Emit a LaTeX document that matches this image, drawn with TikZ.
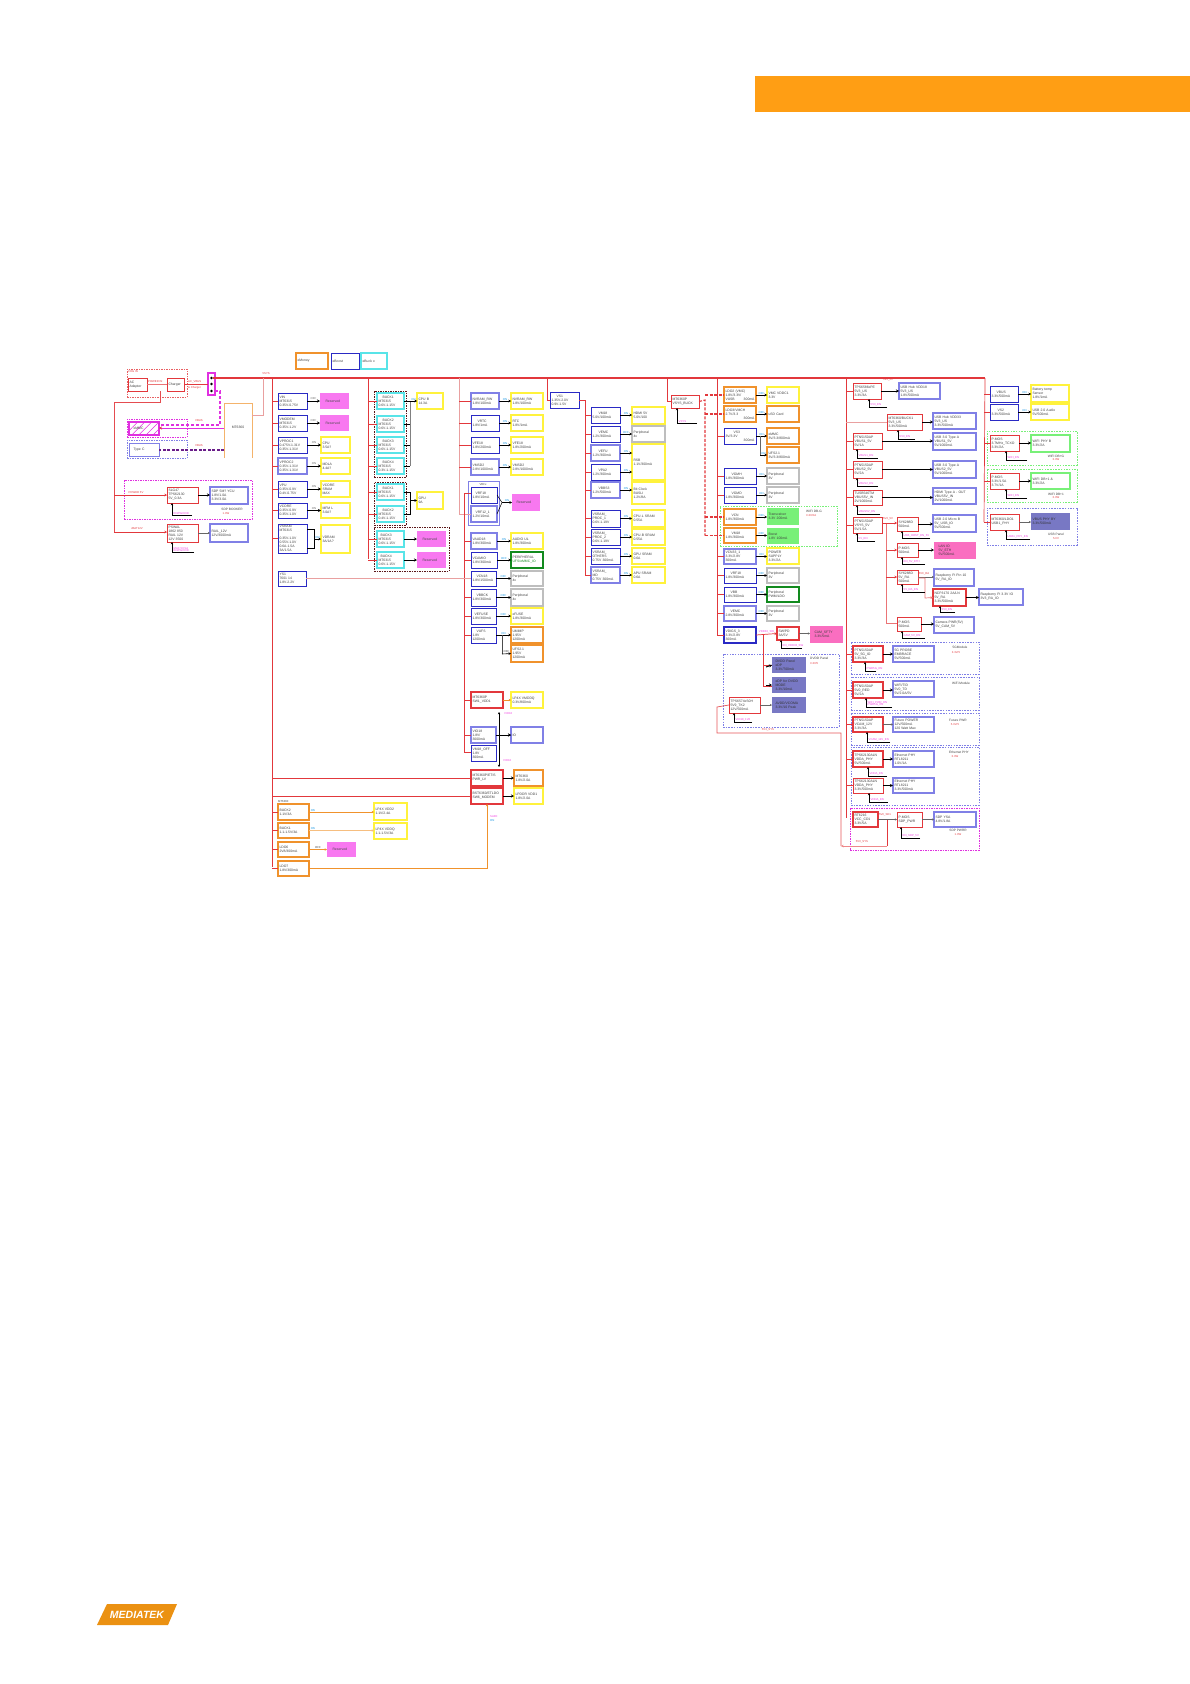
\documentclass[tikz,border=0pt]{standalone}
\usepackage{fontspec}
\setmainfont{Liberation Sans}
\usetikzlibrary{arrows.meta,patterns.meta}
\definecolor{cred}{HTML}{E2383C}
\definecolor{cblue}{HTML}{2A2AC4}
\definecolor{cpur}{HTML}{8080E6}
\definecolor{ccyan}{HTML}{58E4E8}
\definecolor{cyel}{HTML}{FFF23C}
\definecolor{cora}{HTML}{F0922C}
\definecolor{cgry}{HTML}{BEBEBE}
\definecolor{cgrn}{HTML}{78F078}
\definecolor{cdgrn}{HTML}{128A1E}
\definecolor{cpnk}{HTML}{F878F0}
\definecolor{crose}{HTML}{FA6EC0}
\definecolor{cnavy}{HTML}{7878C4}
\definecolor{cmag}{HTML}{E030E0}
\definecolor{clab}{HTML}{F040E0}
\definecolor{crail}{HTML}{E9A0A0}
\definecolor{chead}{HTML}{FF9E14}
\tikzset{
 boxx/.style={inner xsep=1.5pt,inner ysep=0pt,outer sep=0pt,align=left,text=black!75,font=\fontsize{3.4}{4}\selectfont},
 bb/.style={draw=cblue,line width=1pt},
 pb/.style={draw=cpur,line width=1.1pt},
 cb/.style={draw=ccyan,line width=1.1pt},
 yb/.style={draw=cyel,line width=1.6pt},
 ob/.style={draw=cora,line width=1.1pt},
 oob/.style={draw=cora,line width=1.5pt},
 gb/.style={draw=cgry,line width=1.1pt},
 rb/.style={draw=cred,line width=1pt},
 rrb/.style={draw=cred,line width=1.6pt},
 grb/.style={draw=cgrn,line width=1.5pt},
 dgb/.style={draw=cdgrn,line width=1.5pt},
 pf/.style={fill=cpnk,text=black!70},
 rosef/.style={fill=crose,text=black!75},
 gf/.style={fill=cgrn},
 nf/.style={fill=cnavy,text=black!80},
 gpdark/.style={draw=black!60!cred,dash pattern=on 1.5pt off 1pt,line width=0.7pt},
 gpmag/.style={draw=cmag,dash pattern=on 1.5pt off 1pt,line width=0.8pt},
 gpblue/.style={draw=cpur,dash pattern=on 1.5pt off 1.2pt,line width=0.5pt},
 gpgrn/.style={draw=cgrn,dash pattern=on 1.5pt off 1.2pt,line width=0.5pt},
 gpred/.style={draw=cred!80,dash pattern=on 1.5pt off 1pt,line width=0.7pt},
 rl/.style={draw=cred,line width=0.7pt},
 rlb/.style={draw=cred,line width=0.85pt},
 rlp/.style={draw=crail,line width=0.7pt},
 rail/.style={draw=cred,line width=1.4pt},
 ar/.style={draw=black,line width=0.6pt,-{Stealth[length=2.6pt,width=2.6pt]}},
 arb/.style={draw=black,line width=1pt,-{Stealth[length=3pt,width=3pt]}},
 arg/.style={draw=black!60,line width=0.5pt,-{Stealth[length=2.2pt,width=2.2pt]}},
 aro/.style={draw=cora,line width=0.7pt,-{Stealth[length=2.4pt,width=2.4pt]}},
 arr/.style={draw=cred,line width=0.7pt,-{Stealth[length=2.6pt,width=2.6pt]}},
 en/.style={draw=black,line width=0.7pt,-{Stealth[length=2.4pt,width=2.4pt]}},
 lb/.style={inner sep=0pt,font=\fontsize{2.8}{3.2}\selectfont,align=left},
 lon/.style={lb,text=cblue!50!cyan},
 loff/.style={lb,text=black!75},
 lpk/.style={lb,text=clab},
 lrd/.style={lb,text=cred},
 ltt/.style={lb,text=black!75,font=\fontsize{3.2}{3.8}\selectfont},
}
\newcommand{\bx}[7]{%
 \pgfmathsetmacro\bwx{#5-#3-3}\pgfmathsetmacro\bhx{#6-#4}%
 \node[boxx,#2,text width=\bwx pt,minimum height=\bhx pt,anchor=north west] (#1) at (#3,#4) {#7};}
\newcommand{\gp}[6]{%
 \pgfmathsetmacro\bwx{#5-#3}\pgfmathsetmacro\bhx{#6-#4}%
 \node[inner sep=0pt,outer sep=0pt,#2,minimum width=\bwx pt,minimum height=\bhx pt,anchor=north west] (#1) at (#3,#4) {};}
\newcommand{\enb}[5]{%
 \coordinate (#1-e) at (#4,#3);\coordinate (#1-f) at (#2,#3);
 \draw[en] (#1-e) -- (#1-f) -- (#1.south -| #1-f);
 \node[lpk,anchor=south west] (#1-l) at (#2+1.5,#3-0.3) {#5};}
\newcommand{\lab}[5]{\node[#2,anchor=#3] (#1) at (#4) {#5};}
\begin{document}
\begin{tikzpicture}[x=1pt,y=-1pt]
\useasboundingbox (0,0) rectangle (1190,1684);
\node[fill=chead,inner sep=0pt,minimum width=435pt,minimum height=36pt,anchor=north west] (hdr) at (755,76) {};
\path[fill=chead!92!black] (97,1625) -- (107,1604) -- (177,1604) -- (168,1625) -- cycle;
\node[text=white,font=\bfseries\itshape\fontsize{10.5}{10.5}\selectfont,inner sep=0pt] (logo) at (137,1614.5) {MEDIATEK};
\bx{lg1}{ob}{296}{353}{328}{369}{eMoney}
\bx{lg2}{bb}{331}{353}{359}{369}{eBoost}
\bx{lg3}{cb}{361}{353}{387}{369}{eBuck x}
\gp{gchg}{gpred}{127}{369}{187}{397}
\gp{gusb}{gpmag}{127}{419}{187}{437}
\gp{gtc}{draw=cpur,dash pattern=on 1.5pt off 1pt,line width=0.7pt}{127}{440}{187}{458}
\gp{gsdp}{gpmag}{124}{480}{252}{519}
\gp{gb1}{gpdark}{374}{391}{406}{477}
\gp{gb2}{gpdark}{374}{482}{406}{525}
\gp{gb3}{gpdark}{374}{527}{449}{571}
\gp{gvrf}{draw=cpur,line width=1pt}{468}{481}{499}{525}
\gp{gwifi}{gpgrn}{720}{506}{837}{546}
\gp{gedp}{gpblue}{723}{654}{839}{727}
\gp{gwf1}{gpgrn}{987}{431}{1077}{465}
\gp{gwf2}{gpgrn}{987}{469}{1077}{502}
\gp{gwf3}{gpblue}{987}{508}{1077}{545}
\gp{gm1}{gpblue}{851}{642}{979}{674}
\gp{gm2}{gpblue}{851}{677}{979}{710}
\gp{gm3}{gpblue}{851}{713}{979}{745}
\gp{gm4}{gpblue}{851}{747}{979}{805}
\gp{gm5}{gpmag}{850}{808}{979}{850}
\bx{ac}{rb}{128}{378}{147}{391}{AC\\Adapter}
\bx{chg}{rb}{167}{378}{184}{391}{Charger}
\gp{hub}{draw=cmag,line width=1.6pt}{208}{373}{215}{395}
\node[fill=black,circle,inner sep=0pt,minimum size=2.6pt] (d1) at (211.5,378) {};
\node[fill=black,circle,inner sep=0pt,minimum size=2.6pt] (d2) at (211.5,384) {};
\node[fill=black,circle,inner sep=0pt,minimum size=2.6pt] (d3) at (211.5,391) {};
\gp{mt}{}{224}{403}{252}{458}
\node[font=\fontsize{3.4}{4}\selectfont,text=black!75] (mtl) at (238,427) {MT6360};
\draw[draw=cora!70,line width=0.8pt] (mt.south west) -- (mt.north west) -- (mt.north east) -- (mt.south east);
\bx{hat}{draw=cmag,line width=1.1pt,pattern={Lines[angle=45,distance=5pt,line width=0.5pt]},pattern color=cmag}{129}{422}{159}{435}{\hspace{3pt}eMMC}
\bx{tc}{draw=cpur,line width=1pt}{129}{443}{159}{456}{\hspace{3pt}Type C}
\bx{sr}{rb}{167}{487}{198}{503}{SLG47\\TPS62130\\5V\_0.3A}
\bx{sd}{pb}{210}{487}{248}{504}{SDP 5M? YCU\\1.8V/1.0A\\3.3V/3.0A}
\bx{sr2}{rb}{167}{524}{198}{542}{PSWAL\\1862 850\\RAIL 12V\\12V 3500}
\bx{sd2}{pb}{210}{524}{248}{542}{RAIL\_12V\\12V/3000mA}
\bx{l1}{bb}{278}{393}{307}{409}{VIN\\MT6315\\0.35V-0.75V}
\bx{l2}{bb}{278}{415}{307}{431}{VMODEM\\MT6315\\0.35V-1.2V}
\bx{l3}{bb}{278}{437}{307}{453}{VPROC1\\0.475V-1.31V\\0.35V-1.31V}
\bx{l4}{pb}{278}{458}{307}{474}{VPROC2\\0.35V-1.31V\\0.35V-1.31V}
\bx{l5}{bb}{278}{481}{307}{497}{VPU\\0.35V-0.9V\\0.4V-0.75V}
\bx{l6}{bb}{278}{503}{307}{518}{VCORE\\0.35V-0.9V\\0.35V-1.0V}
\bx{l7}{bb}{278}{524}{307}{553}{VSRAM\\MT6315\\[4pt]0.35V-1.0V\\0.55V-1.0V\\0.6A-1.5A\\3A/1.5A}
\bx{ys}{bb}{278}{571}{306}{586}{YS1\\7601 14\\1.8V-2.2V}
\bx{t1}{pf}{320}{393}{349}{409}{\hspace{4pt}Reserved}
\bx{t2}{pf}{320}{415}{349}{431}{\hspace{4pt}Reserved}
\bx{t3}{yb}{321}{437}{350}{453}{CPU\\3.5A?}
\bx{t4}{yb}{321}{458}{350}{474}{MDLA\\4.4A?}
\bx{t5}{yb}{321}{481}{350}{497}{VCORE\\SRAM\\MAX}
\bx{t6}{yb}{321}{503}{350}{518}{MFM L\\3.0A?}
\bx{t7}{yb}{321}{525}{350}{553}{VDRAM\\3A/1A?}
\node[lb,text=black!75,anchor=west] (mt63) at (278,802) {MT6360};
\bx{b1}{ob}{278}{804}{309}{820}{BUCK2\\1.1V/3A}
\bx{b2}{ob}{278}{823}{309}{838}{BUCK1\\1.1-1.5V/3A}
\bx{b3}{ob}{278}{842}{309}{857}{LDO6\\2V8/300mA}
\bx{b4}{ob}{278}{861}{309}{876}{LDO7\\1.8V/300mA}
\bx{u1}{yb}{374}{803}{407}{820}{LP4X VDD2\\1.1V/2.4A}
\bx{u2}{yb}{374}{823}{407}{839}{LP4X VDDQ\\1.1-1.5V/3A}
\bx{u3}{pf}{327}{842}{356}{857}{\hspace{4pt}Reserved}
\bx{a1}{cb}{377}{393}{404}{409}{\hspace{4pt}BUCK1\\MT6315\\0.6V-1.15V}
\bx{a2}{cb}{377}{416}{404}{432}{\hspace{4pt}BUCK2\\MT6315\\0.6V-1.15V}
\bx{a3}{cb}{377}{437}{404}{453}{\hspace{4pt}BUCK3\\MT6315\\0.6V-1.15V}
\bx{a4}{cb}{377}{458}{404}{474}{\hspace{4pt}BUCK4\\MT6315\\0.3V-1.15V}
\bx{a5}{cb}{377}{484}{404}{500}{\hspace{4pt}BUCK1\\MT6315\\0.6V-1.15V}
\bx{a6}{cb}{377}{506}{404}{522}{\hspace{4pt}BUCK2\\MT6315\\0.4V-1.15V}
\bx{a7}{cb}{377}{531}{404}{547}{\hspace{2pt}BUCK3\\MT6315\\0.6V-1.15V}
\bx{a8}{cb}{377}{552}{404}{568}{\hspace{2pt}BUCK4\\MT6315\\0.6V-1.15V}
\bx{cpub}{yb}{417}{393}{443}{409}{CPU B\\14.3A}
\bx{gpu}{yb}{417}{492}{443}{509}{GPU\\9A}
\bx{rs1}{pf}{417}{531}{446}{547}{\hspace{4pt}Reserved}
\bx{rs2}{pf}{417}{552}{446}{568}{\hspace{4pt}Reserved}
\bx{c1}{pb}{471}{393}{499}{409}{NVRAM\_RW\\1.8V/100mA}
\bx{c2}{bb}{471}{415}{499}{431}{\hspace{5pt}VRTC\\1.8V/1mA}
\bx{c3}{bb}{471}{437}{499}{453}{VFE18\\1.8V/200mA}
\bx{c4}{pb}{471}{459}{499}{475}{VMSD2\\2.8V/1000mA}
\node[lb,text=black!75] (vrfl) at (483,484.5) {VRFx};
\bx{c5a}{bb}{471}{487}{497}{503}{\hspace{3pt}VRF18\\1.8V/10mA}
\bx{c5b}{pb}{471}{506}{497}{522}{\hspace{3pt}VRF12\_1\\1.2V/10mA}
\bx{c6}{pb}{471}{533}{497}{549}{VAUD18\\1.8V/300mA}
\bx{c7}{bb}{471}{552}{497}{568}{VCAMIO\\1.8V/300mA}
\bx{c8}{bb}{471}{571}{496}{586}{\hspace{4pt}VCN18\\1.8V/1500mA}
\bx{c9}{bb}{471}{589}{496}{606}{\hspace{4pt}VBBCK\\1.8V/300mA}
\bx{c10}{bb}{471}{608}{496}{624}{\hspace{2pt}VEFUSE\\1.8V/300mA}
\bx{c11}{bb}{471}{627}{496}{643}{\hspace{4pt}VUFS\\1.8V\\1200mA}
\bx{d1b}{yb}{511}{393}{543}{409}{NVRAM\_RW\\1.8V/100mA}
\bx{d2b}{yb}{511}{415}{543}{431}{RTC\\1.8V/1mA}
\bx{d3b}{yb}{511}{437}{543}{453}{VFE18\\1.8V/200mA}
\bx{d4b}{yb}{511}{459}{543}{475}{VMSD2\\2.8V/1000mA}
\bx{d5}{pf}{512}{494}{540}{511}{\hspace{3pt}Reserved}
\bx{d6}{yb}{511}{533}{543}{549}{AUDIO UL\\1.8V/300mA}
\bx{d7}{dgb}{511}{552}{543}{568}{PERIPHERAL\\{\color{cdgrn}UFS/eMMC\_IO}}
\bx{d8}{gb}{511}{571}{543}{586}{Peripheral\\4x}
\bx{d9}{gb}{511}{589}{543}{606}{Peripheral\\4x}
\bx{d10}{yb}{511}{608}{543}{624}{eFUSE\\1.8V/300mA}
\bx{d11}{oob}{511}{627}{543}{643}{UMIMP\\1.95V\\1200mA}
\bx{d12}{oob}{511}{645}{543}{662}{UFS2.1\\1.95V\\1200mA}
\bx{s1}{rrb}{471}{692}{503}{708}{MT6360P\\SW1\_VDD1}
\bx{s1t}{yb}{511}{692}{543}{708}{LP4X VMDDQ\\0.3V/800mA}
\bx{io1}{pb}{471}{727}{496}{743}{VIO18\\1.8V/\\3000mA}
\bx{io2}{bb}{471}{745}{496}{761}{VM18\_OFF\\1.8V\\300mA}
\bx{io}{pb}{511}{727}{543}{743}{IO}
\bx{s2}{rrb}{471}{770}{503}{786}{MT6360P/ETIS\\PWR\_LV}
\bx{s3}{rrb}{471}{788}{503}{804}{BST6360/ETLDO\\SW6\_MODEM}
\bx{s2t}{oob}{514}{770}{543}{786}{MT6360\\1.8V/2.0A}
\bx{s3t}{yb}{514}{788}{543}{804}{LPDDR VDD1\\1.8V/2.0A}
\bx{vs1}{bb}{550}{392}{579}{408}{\hspace{5pt}VS1\\1.35V-2.0V\\0.9V-1.5V}
\bx{e1}{bb}{591}{407}{620}{423}{\hspace{6pt}VM18\\5.0V/100mA}
\bx{e2}{bb}{591}{426}{620}{442}{\hspace{6pt}VEMC\\1.2V/300mA}
\bx{e3}{pb}{591}{445}{620}{461}{\hspace{6pt}VEFU\\1.2V/300mA}
\bx{e4}{bb}{591}{464}{620}{480}{\hspace{6pt}VPA2\\1.2V/300mA}
\bx{e5}{pb}{591}{482}{620}{498}{\hspace{6pt}VBBS3\\1.2V/500mA}
\bx{e6}{bb}{591}{510}{620}{527}{VSRAM\_\\PROC\_1\\0.6V-1.19V}
\bx{e7}{bb}{591}{529}{620}{545}{VSRAM\_\\PROC\_2\\0.6V-1.19V}
\bx{e8}{bb}{591}{548}{620}{564}{VSRAM\_\\OTHERS\\0.75V\ 300mA}
\bx{e9}{pb}{591}{567}{620}{583}{VSRAM\_\\MD\\0.75V\ 300mA}
\bx{f1}{yb}{632}{407}{665}{424}{HDMI 5V\\5.0V/100}
\bx{f2}{gb}{632}{426}{665}{442}{Peripheral\\4x}
\bx{f3}{yb}{632}{444}{665}{480}{RSB\\1.1V/300mA}
\bx{f5}{yb}{632}{482}{665}{504}{Bit Clock\\BUSLI\\1.2V/8A}
\bx{f6}{yb}{632}{510}{665}{527}{CPU-L SRAM\\0.55A}
\bx{f7}{yb}{632}{529}{665}{545}{CPU-B SRAM\\0.55A}
\bx{f8}{yb}{632}{548}{665}{564}{GPU SRAM\\0.6A}
\bx{f9}{yb}{632}{567}{665}{583}{APU SRAM\\0.6A}
\bx{bk}{rb}{671}{395}{699}{408}{MT6360P\\VSYS\_BUCK}
\bx{h1}{ob}{724}{387}{756}{403}{LDO2 (VMC)\\1.8V/3.3V/\\VUSB\hfill 300mA}
\bx{h2}{ob}{724}{406}{756}{422}{LDO3/VMCH\\2.7V/3.3\\\hfill 300mA}
\bx{h3}{bb}{724}{428}{756}{444}{\hspace{8pt}VS3\\3V/3.3V\\\hfill 300mA}
\bx{h4}{bb}{724}{468}{756}{484}{\hspace{6pt}VGMH\\1.8V/300mA}
\bx{h5}{bb}{724}{487}{756}{503}{\hspace{6pt}VGMD\\1.8V/300mA}
\bx{h6}{ob}{724}{509}{756}{525}{\hspace{6pt}VCN\\1.8V/300mA}
\bx{h7}{ob}{724}{528}{756}{543}{\hspace{6pt}VM18\\1.8V/300mA}
\bx{h8}{pb}{724}{549}{756}{564}{VCN33\_1\\3.3V/2.8V\\300mA}
\bx{h9}{bb}{724}{568}{756}{583}{\hspace{5pt}VRF18\\1.8V/300mA}
\bx{h10}{bb}{724}{587}{756}{602}{\hspace{5pt}VBB\\1.8V/300mA}
\bx{h11}{pb}{724}{606}{756}{621}{\hspace{5pt}VEMC\\2.8V/300mA}
\bx{vio3}{draw=cblue,line width=1.5pt}{724}{627}{756}{643}{VDIGS\_3\\3.3V/2.8V\\300mA}
\bx{j1}{yb}{767}{387}{799}{403}{VMC VDDC1\\3.3V}
\bx{j2}{oob}{767}{406}{799}{422}{uSD Card}
\bx{j3}{oob}{767}{428}{799}{444}{eMMC\\3V/3.3/800mA}
\bx{j3b}{oob}{767}{447}{799}{463}{UFS2.1\\3V/3.3/800mA}
\bx{j4}{gb}{767}{468}{799}{484}{Peripheral\\3V}
\bx{j5}{gb}{767}{487}{799}{503}{Peripheral\\3V}
\bx{j6}{gf}{767}{508}{799}{525}{Transceiver\\3.3V\ 200mA}
\bx{j7}{gf}{767}{528}{799}{544}{Boost\\1.8V\ 100mA}
\bx{j8}{yb}{767}{548}{799}{564}{POWER\\SUPPLY\\3.3V/2A}
\bx{j9}{gb}{767}{568}{799}{583}{Peripheral\\3V}
\bx{j10}{dgb}{767}{587}{799}{602}{Peripheral\\PWM/LDO}
\bx{j11}{gb}{767}{606}{799}{621}{Peripheral\\3V}
\bx{sw}{rrb}{777}{627}{799}{640}{SW/PD\\3A/5V}
\bx{cam}{rosef}{810}{626}{843}{643}{\hspace{3pt}CAM\_SFTY\\\hspace{3pt}3.3V/5mA}
\bx{n1}{nf}{772}{657}{806}{673}{\hspace{2pt}DVDD Panel\\\hspace{2pt}eDP\\\hspace{2pt}3.3V/700mA}
\bx{n2}{nf}{772}{677}{806}{693}{\hspace{2pt}eDP for DVDD\\\hspace{2pt}MODE\\\hspace{2pt}3.3V/10mA}
\bx{n3}{nf}{772}{697}{806}{713}{\hspace{2pt}AVDD/VCOMA\\\hspace{2pt}3.3V/10 Peak}
\bx{pv}{rb}{729}{697}{760}{713}{TPS6574xS0H\\5V9\_TK2\\12V/500mA}
\bx{k1}{rb}{853}{383}{881}{399}{TPS6586xPE\\5V3\_US\\3.3V/3A}
\bx{k2}{rb}{887}{414}{922}{430}{MT6360/BUCK1\\5V3\_US\\3.3V/500mA}
\bx{k3}{rb}{853}{433}{882}{449}{PTN5150AP\\VBUS1\_5V\\5V/1A}
\bx{k4}{rb}{853}{461}{882}{478}{PTN5150AP\\VBUS2\_5V\\5V/2A}
\bx{k5}{rb}{853}{490}{882}{505}{TUSB546TM\\VBUS5V\_IN\\2V/1000mA}
\bx{k6}{rb}{853}{517}{882}{533}{PTN5150AP\\VSYS\_5V\\5V/1.5A}
\bx{m1}{pb}{899}{383}{940}{399}{USB Hub VDD18\\5V3\_US\\1.8V/500mA}
\bx{m2}{pb}{933}{413}{976}{429}{USB Hub VDD33\\5V3\_US\\3.3V/500mA}
\bx{m3}{pb}{933}{433}{976}{450}{USB 3.0 Type A\\VBUS1\_5V\\5V/1000mA}
\bx{m4}{pb}{933}{461}{976}{478}{USB 3.0 Type A\\VBUS2\_5V\\5V/1000mA}
\bx{m5}{pb}{933}{488}{976}{504}{HDMI Type A - OUT\\VBUS5V\_IN\\2V/1000mA}
\bx{q1}{rb}{897}{517}{918}{531}{SY6288D\\500mA}
\bx{m6}{pb}{933}{515}{976}{532}{USB 2.0 Micro B\\5V\_USB\_IO\\5V/500mA}
\bx{q2}{rb}{897}{543}{918}{557}{P-MOS\\500mA}
\bx{m7}{rosef}{934}{542}{976}{559}{\hspace{3pt}LAN IO\\\hspace{3pt}5V\_ETH\\\hspace{3pt}5V/500mA}
\bx{q3}{rb}{897}{570}{918}{584}{SY6288D\\5V\_RA\\500mA}
\bx{m8}{pb}{934}{569}{974}{586}{Raspberry Pi Pin 10\\5V\_RA\_IO}
\bx{q4}{rrb}{933}{589}{966}{606}{NCP3170 2A/LN\\5V\_RA\\3.3V/500mA}
\bx{m9}{pb}{979}{589}{1023}{605}{Raspberry Pi 3.3V IO\\3V3\_RA\_IO}
\bx{q5}{rb}{897}{617}{921}{631}{P-MOS\\500mA}
\bx{m10}{pb}{934}{617}{974}{633}{Camera PWR(5V)\\5V\_CAM\_5V}
\bx{v1}{bb}{990}{386}{1018}{402}{\hspace{5pt}VBUS\\3.3V/500mA}
\bx{v2}{bb}{990}{404}{1018}{420}{\hspace{6pt}VS2\\3.3V/500mA}
\bx{w1}{yb}{1031}{385}{1069}{402}{Battery temp\\Sensor\\1.8V/1mA}
\bx{w2}{yb}{1031}{404}{1069}{420}{USB 2.0 Audio\\5V/500mA}
\bx{x1}{rb}{990}{435}{1019}{451}{P-MOS\\3.7MHz\_TCXO\\3.3V/2A}
\bx{y1}{grb}{1031}{435}{1070}{452}{WIFI PHY B\\3.3V/2A}
\bx{x2}{rb}{990}{473}{1019}{489}{P-MOS\\3.3V/1.5A\\3.7V/1A}
\bx{y2}{grb}{1031}{473}{1070}{489}{WIFI DB+1 \&\\3.3V/2A}
\bx{x3}{rb}{990}{514}{1019}{530}{MT6360/LDO1\\USB1\_PHY}
\bx{y3}{nf}{1031}{513}{1070}{530}{VBUS PHY BY\\3.3V/500mA}
\bx{z1}{rrb}{853}{646}{883}{662}{PTN5150AP\\5V\_5G\_IO\\3.3V/3A}
\bx{z1t}{pb}{893}{646}{934}{662}{5G PROBE\\EMBRACE\\5V/500mA}
\bx{z2}{rrb}{853}{682}{883}{698}{PTN5150AP\\5V0\_RED\\5V/2A}
\bx{z2t}{pb}{893}{681}{934}{697}{WIFI/TID\\5V0\_TD\\5V/2.0A/5V}
\bx{z3}{rrb}{853}{717}{883}{732}{PTN5150AP\\VCAM\_12V\\3.3V/3A}
\bx{z3t}{pb}{893}{717}{934}{732}{Future POWER\\12V/500mA\\120 Watt Max}
\bx{z4}{rrb}{853}{751}{883}{767}{TPS62130ALN\\VDDA\_PHY\\5V/500mA}
\bx{z4t}{pb}{893}{751}{934}{767}{Ethernet PHY\\RTL8211\\1.0V/1A}
\bx{z5}{rb}{853}{778}{883}{793}{TPS62130ALN\\VDDA\_PHY\\3.3V/500mA}
\bx{z5t}{pb}{893}{778}{934}{793}{Ethernet PHY\\RTL8211\\3.3V/500mA}
\bx{z6}{rrb}{853}{812}{878}{827}{RT6216\\VCC\_CD1\\3.3V/5A}
\bx{z7}{rb}{897}{812}{922}{827}{P-MOS\\SDP\_PWR}
\bx{z8}{pb}{934}{812}{976}{827}{SDP YSA\\4.8V/1.8A}
\coordinate (ra) at (272,378);
\coordinate (rb1) at (368,378);
\coordinate (rc) at (459,378);
\coordinate (rc2) at (464,493);
\coordinate (rd) at (547,378);
\coordinate (re) at (667,378);
\coordinate (rf) at (717,378);
\coordinate (rg) at (846,378);
\coordinate (rh) at (984,378);
\coordinate (rm) at (985,378);
\coordinate (rfa) at (717,635);
\coordinate (rga) at (846,818);
\coordinate (rhb) at (984,522);
\coordinate (rab) at (272,867);
\coordinate (rbb) at (368,559);
\coordinate (rce) at (459,514);
\coordinate (rc2b) at (464,752);
\coordinate (vsv) at (585,400);
\coordinate (vsb) at (585,575);
\draw[rail] (d1) -- (rm);
\draw[rl] (rm) -- (rhb);
\draw[rlb] (ra) -- (rab);
\draw[rlb] (rb1) -- (rbb);
\draw[rlp,line width=0.9pt] (rc) -- (rce) -- (rce -| c5b.west);
\draw[rl] (rc2) -- (rc2b) -- (rc2b -| io2.west);
\draw[rl] (rc2) -- (rc2 -| c5a.west);
\draw[rlb] (rf) -- (rfa) -- (rfa -| vio3.west);
\draw[rlb] (rg) -- (rga);
\draw[rl] (rd) -- (rd |- vs1.west) -- (vs1.west);
\draw[rl] (re) -- (re |- bk.west) -- (bk.west);
\foreach \b in {l1,l2,l3,l4,l5,l6,l7,b1,b2,b3,b4} \draw[rl] (ra |- \b.west) -- (\b.west);
\foreach \b in {s2,s3} \draw[rl] (ra |- \b.west) -- (\b.west);
\draw[rlp] (ys.east) -- (ys.east -| c8.west);
\foreach \b in {a1,a2,a3,a4,a5,a6,a7,a8} \draw[rl] (rb1 |- \b.west) -- (\b.west);
\foreach \b in {c1,c2,c3,c4} \draw[rl] (rc |- \b.west) -- (\b.west);
\foreach \b in {c6,c7,c9,c10,c11,s1,io1} \draw[rl] (rc2 |- \b.west) -- (\b.west);
\foreach \b in {e1,e2,e3,e4,e5,e6,e7,e8,e9} \draw[rl] (vsv |- \b.west) -- (\b.west);
\draw[rl] (vs1.east) -- (vsv) -- (vsb) -- (vsb -| e9.west);
\foreach \b in {h3,h4,h5,h8,h9,h10,h11} \draw[rl] (rf |- \b.west) -- (\b.west);
\foreach \b in {k1,k3,k4,k5,k6,z1,z2,z3,z4,z5} \draw[rl] (rg |- \b.west) -- (\b.west);
\draw[rlp] (rg |- k2.west) -- (k2.west);
\foreach \b in {v1,v2,x1,x2,x3} \draw[rl] (rh |- \b.west) -- (\b.west);
\coordinate (dv1) at (705,400);\coordinate (dv2) at (705,535.5);
\draw[rl,dash pattern=on 3pt off 1.5pt,line width=1.1pt] (bk.east) -- (dv1) -- (dv2);
\foreach \b in {h1,h2,h6,h7} \draw[rl,dash pattern=on 3pt off 1.5pt,line width=1.1pt] (dv1 |- \b.west) -- (\b.west);
\foreach \a/\b/\t in {l1/t1/OFF,l2/t2/OFF,l3/t3/ON,l4/t4/ON,l5/t5/ON,l6/t6/ON}{
 \draw[arb] (\a.east) -- (\a.east -| \b.west) node[midway,above=0.6pt,lon,text=black!60]{\t};}
\foreach \a/\b/\t in {c1/d1b/ON,c2/d2b/ON,c3/d3b/ON,c4/d4b/ON,c6/d6/ON,c7/d7/OFF,c8/d8/OFF,c9/d9/OFF,c10/d10/OFF,c11/d11/ON,
 h1/j1/OFF,h2/j2/OFF,h3/j3/ON,h4/j4/ON,h5/j5/ON,h6/j6/OFF,h7/j7/OFF,h8/j8/ON,h9/j9/OFF,h10/j10/OFF,h11/j11/OFF,
 e1/f1/ON,e2/f2/OFF,e3/f3/ON,e4/f3/ON,e5/f5/ON,e6/f6/ON,e7/f7/ON,e8/f8/ON,e9/f9/ON,v1/w1/ON,v2/w2/ON}{
 \draw[ar] (\a.east) -- (\a.east -| \b.west) node[midway,above=0.6pt,lon]{\t};}
\foreach \a/\b in {a7/rs1,a8/rs2,sr/sd,k3/m3,k4/m4,k5/m5,q1/m6,q2/m7,q5/m10,z1/z1t,z2/z2t,z4/z4t,z5/z5t,x1/y1,x2/y2,s2/s2t,s3/s3t,q4/m9,io1/io,k2/m2,k1/m1}
 \draw[arb,line width=0.8pt] (\a.east) -- (\a.east -| \b.west);
\foreach \a/\b in {sr2/sd2,x3/y3,z3/z3t,z6/z7,z7/z8,pv/n3,sw/cam,q3/m8}
 \draw[arg] (\a.east) -- (\a.east -| \b.west);
\draw[aro] (s1.east) -- (s1t.west);
\draw[aro] (b1.east) -- (b1.east -| u1.west) node[pos=0.06,above=0.6pt,lon]{ON};
\draw[aro,draw=cora!60] (b2.east) -- (b2.east -| u2.west) node[pos=0.06,above=0.6pt,lon]{ON};
\draw[aro] (b3.east) -- (b3.east -| u3.west) node[midway,above=0.6pt,loff]{OFF};
\coordinate (lo7) at (487,867);
\draw[aro] (b4.east) -- (b4.east -| lo7) -- (s3.south -| lo7);
\coordinate (bk1) at (410,401);\coordinate (bk1b) at (410,466);
\draw[draw=black!50,line width=0.9pt] (a1.east -| bk1) -- (bk1b);
\foreach \b in {a1,a2,a3,a4} \draw[draw=black,line width=0.5pt] (\b.east) -- (\b.east -| bk1);
\draw[ar] (bk1) -- (cpub.west) node[midway,above=0.6pt,lon]{ON};
\coordinate (bk2) at (410,500.5);
\draw[draw=black,line width=0.5pt] (a5.east) -- (a5.east -| bk2) -- (a6.east -| bk2) -- (a6.east);
\draw[ar] (bk2) -- (gpu.west);
\coordinate (bk3) at (502,502.5);
\draw[draw=black,line width=0.5pt] (c5a.east) -- (bk3) -- (c5b.east);
\draw[ar] (bk3) -- (d5.west) node[midway,above=0.6pt,lon]{ON};
\coordinate (bk4) at (314,539);
\draw[draw=black,line width=0.8pt] (l7.east |- 0,529) -- (314,529) -- (314,548) -- (l7.east |- 0,548);
\draw[ar] (bk4) -- (bk4 -| t7.west) node[midway,above=0.6pt,lon]{ON};
\draw[ar] (io1.east) -- (io.west);
\coordinate (vt1) at (499,712);\coordinate (vt2) at (499,767);
\draw[draw=black,line width=0.8pt,{Stealth[length=2.4pt,width=2.4pt]}-{Stealth[length=2.4pt,width=2.4pt]}] (vt1) -- (vt2);
\coordinate (h3v) at (760,436);\coordinate (h3w) at (760,455);
\draw[draw=black!60,line width=0.7pt] (h3v) -- (h3w);
\draw[ar] (h3w) -- (j3b.west) node[midway,above=0.6pt,lon]{ON};
\coordinate (c11v) at (502,635);\coordinate (c11w) at (502,654);
\draw[draw=black!70,line width=0.6pt] (c11v) -- (c11w);
\draw[ar,line width=0.6pt] (c11w) -- (d12.west) node[midway,above=0.6pt,loff]{OFF};
\draw[arr] (vio3.east) -- (sw.west) node[midway,above=0.6pt,lpk]{VDD33\_SW};
\coordinate (ev) at (763,635);\coordinate (ev2) at (763,686);
\draw[rl] (ev) -- (ev2);
\draw[rl] (ev |- n1.west) -- (n1.west);
\draw[rl] (ev2) -- (ev2 -| n2.west);
\draw[arb] (766,667) -- (n1.west);
\draw[arb] (766,685) -- (n2.west |- 0,685);
\coordinate (rv) at (886,523);\coordinate (rv2) at (886,623);
\draw[rl,draw=cred!70] (rv) -- (rv2) -- (rv2 -| q5.west);
\draw[arr] (k6.east |- 0,523) -- (q1.west |- 0,523);
\draw[arr] (rv |- q2.west) -- (q2.west);
\draw[arr] (rv |- q3.west) -- (q3.west);
\draw[arr,draw=cred!70] (918,578) -- (925,578) -- (925,598) -- (q4.west);
\coordinate (acd) at (160,391);\coordinate (acv) at (114,402);\coordinate (acv2) at (114,532);
\draw[rlb,draw=cred!90] (acd) -- (160,402) -- (acv) -- (acv2);
\draw[arr] (acv2) -- (acv2 -| sr2.west);
\draw[arr,line width=1pt] (acv |- sr.west) -- (sr.west);
\draw[rl,draw=cred!70] (ac.east) -- (chg.west);
\draw[rl] (chg.east) -- (hub.west |- chg.east);
\draw[rlp] (mt.north east |- 0,415) -- (263,415) -- (263,378);
\draw[draw=cmag,dash pattern=on 3pt off 2pt,line width=1.2pt] (hub.east |- 0,391) -- (220,391) -- (220,425) -- (hat.east |- 0,425);
\draw[draw=cmag,line width=0.7pt,-{Stealth[length=3pt,width=3pt,color=cred]}] (mt.west |- 0,428) -- (hat.east |- 0,428);
\draw[draw=cblue!70!red,dash pattern=on 3pt off 1.5pt,line width=1.2pt] (mt.west |- 0,450) -- (tc.east |- 0,450);
\coordinate (pv1) at (717,707);\coordinate (pv2) at (717,733);\coordinate (pv3) at (841,733);\coordinate (pv4) at (841,846);\coordinate (pv5) at (887,846);\coordinate (pv6) at (887,820);
\draw[rl,draw=cred!85] (pv.west) -- (pv1) -- (pv2) -- (pv3) -- (pv4);
\draw[arr,draw=cred!60] (pv5) -- (pv4);
\draw[rl] (pv5) -- (pv6);
\enb{sr}{172}{515}{192}{EN/PGOOD}
\enb{sr2}{172}{552}{194}{MAX 5V/1A\\[-1pt]EN/PGOOD}
\enb{bk}{677}{423}{697}{VSYS}
\enb{sw}{781}{648}{802}{EN\_VDD33\_SW}
\enb{pv}{734}{722}{752}{VIO18\_1V8}
\enb{k1}{869}{407}{887}{5V3\_EN}
\enb{k2}{898}{439}{915}{5V3\_EN}
\enb{k3}{857}{458}{878}{VBUS1\_EN}
\enb{k4}{857}{486}{878}{VBUS2\_EN}
\enb{k5}{857}{514}{880}{VBUS5V\_EN}
\enb{k6}{857}{541}{875}{5V\_EN}
\enb{q1}{902}{538}{930}{USB\_HOST\_EN\_5V}
\enb{q2}{902}{564}{925}{EN\_5V\_ETH}
\enb{q3}{902}{592}{925}{5V\_RA\_EN}
\enb{q4}{940}{612}{955}{3V3\_EN}
\enb{q5}{902}{638}{925}{CAM\_5V\_EN}
\enb{x1}{1006}{460}{1027}{WIFI\_EN}
\enb{x2}{1006}{498}{1027}{WIFI\_EN}
\enb{x3}{1006}{539}{1030}{USB1\_PHY\_EN}
\enb{z1}{865}{671}{876}{PWR5G\_EN}
\enb{z2}{866}{707}{892}{WIFI\_PWR\_EN\\[-1pt]PWR5G\_EN}
\enb{z3}{867}{742}{890}{VCAM\_12V\_EN}
\enb{z4}{868}{776}{887}{VDDA\_EN}
\enb{z5}{869}{802}{888}{VDDA\_EN}
\enb{z7}{901}{838}{920}{EN\_SDP\_5V}
\lab{n01}{lrd}{west}{128,372}{CHG IN}
\lab{n02}{lrd}{west}{148,382}{POWER IN}
\lab{n03}{lrd}{west}{188,382}{AC\_VBUS}
\lab{n04}{lrd}{west}{188,388}{\& Charger}
\lab{n05}{lrd}{center}{266,374}{VSYS}
\lab{n06}{lrd}{center}{199,421}{VBUS}
\lab{n07}{lrd}{center}{199,446}{VBUS}
\lab{n08}{lrd}{center}{136,493}{POWER 5V}
\lab{n09}{lrd}{center}{137,529}{JBAT12V}
\lab{n10}{ltt}{center}{232,509}{SDP BOOKER}
\lab{n11}{lrd}{center}{226,514}{1.0W}
\lab{n12}{lpk}{west}{504,714}{VIO18}
\lab{n13}{lpk}{west}{503,761}{VIO18}
\lab{n14}{lpk}{west}{490,817}{SAFE}
\lab{n15}{lon}{west}{490,820.5}{ON}
\lab{n16}{ltt}{west}{806,511}{WIFI DB-G}
\lab{n17}{lrd}{west}{806,515}{3.3V/2A}
\lab{n18}{ltt}{west}{810,658}{DVDD Panel}
\lab{n19}{lrd}{west}{810,663}{3.3V/5}
\lab{n20}{lrd}{center}{768,730}{5V3\_SYS}
\lab{n21}{lrd}{center}{888,380}{5V3\_5V}
\lab{n22}{lrd}{center}{888,519}{5V3\_5V}
\lab{n23}{lrd}{center}{924,574}{5V0\_RA}
\lab{n24}{ltt}{center}{1056,456}{WIFI DB+G}
\lab{n25}{lrd}{center}{1056,460}{3.3W}
\lab{n26}{ltt}{center}{1056,494}{WIFI DB+1}
\lab{n27}{lrd}{center}{1056,498}{3.3W}
\lab{n28}{ltt}{center}{1056,534}{USB Panel}
\lab{n29}{lrd}{center}{1056,539}{5.0V}
\lab{n30}{ltt}{center}{960,647}{5GModule}
\lab{n31}{lrd}{center}{956,652}{3.3V/5}
\lab{n32}{ltt}{center}{961,683}{WiFi Module}
\lab{n33}{ltt}{center}{958,720}{Future PWR}
\lab{n34}{lrd}{center}{955,724}{5.0V/5}
\lab{n35}{ltt}{center}{959,752}{Ethernet PHY}
\lab{n36}{lrd}{center}{955,757}{3.3W}
\lab{n37}{ltt}{center}{958,830}{SDP PWRR}
\lab{n38}{lrd}{center}{958,835}{1.0W}
\lab{n39}{lrd}{center}{885,815}{5V0\_SD1}
\lab{n40}{lrd}{center}{862,842}{5V0\_SYS}
\end{tikzpicture}
\end{document}
